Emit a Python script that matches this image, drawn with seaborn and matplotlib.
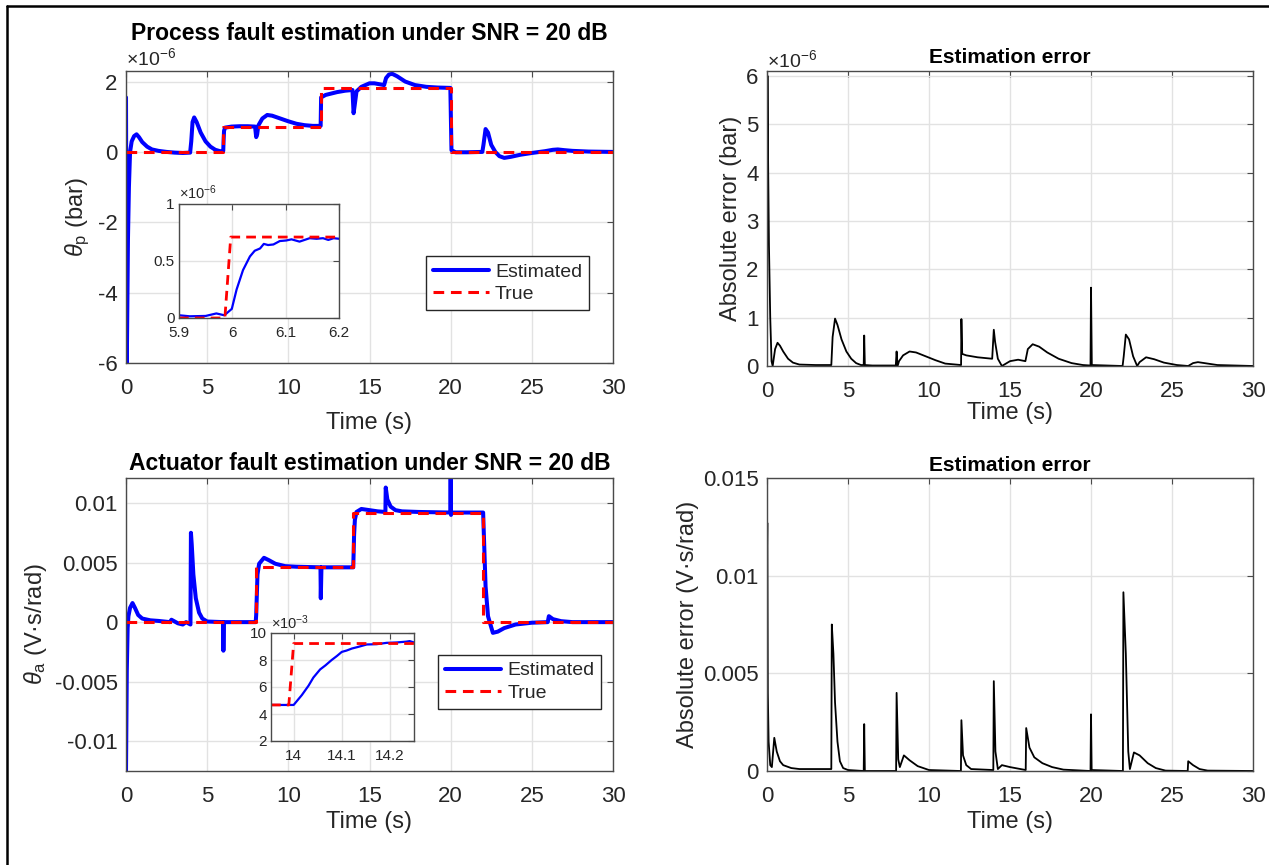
import matplotlib.pyplot as plt
import numpy as np
import seaborn as sns
from matplotlib.lines import Line2D
from matplotlib.ticker import FuncFormatter

# process fault, values in 1e-6 bar
t_proc_est = [0, 0.02, 0.05, 0.08, 0.12, 0.18, 0.25, 0.35, 0.5, 0.65,
              0.8, 1.0, 1.3, 1.6, 2.0, 2.5, 3.0, 3.5, 3.95, 4.02,
              4.1, 4.2, 4.35, 4.6, 4.9, 5.2, 5.5, 5.8, 5.99, 6.01,
              6.04, 6.1, 6.5, 7.0, 7.5, 7.95, 8.02, 8.08, 8.15, 8.4,
              8.7, 9.0, 9.5, 10.0, 10.5, 11.0, 11.5, 11.99, 12.02, 12.3,
              13.0, 13.5, 13.95, 14.02, 14.08, 14.2, 14.5, 15.0, 15.3, 15.9,
              16.02, 16.2, 16.4, 16.7, 17.2, 17.8, 18.5, 19.2, 19.98, 20.05,
              20.3, 21.0, 21.95, 22.02, 22.15, 22.3, 22.5, 22.75, 23.0, 23.3,
              23.7, 24.3, 25.0, 25.8, 26.3, 26.6, 27.0, 27.5, 28.5, 30]
proc_est = [1.55, -2.0, -6.0, -4.5, -2.5, -1.0, 0.0, 0.3, 0.45, 0.5,
            0.42, 0.28, 0.15, 0.07, 0.03, 0.0, -0.02, -0.03, -0.02, 0.3,
            0.85, 0.98, 0.85, 0.55, 0.3, 0.15, 0.06, 0.02, 0.03, 0.3,
            0.6, 0.69, 0.72, 0.73, 0.73, 0.72, 0.42, 0.5, 0.75, 0.95,
            1.05, 1.03, 0.95, 0.87, 0.8, 0.76, 0.74, 0.74, 1.55, 1.62,
            1.7, 1.74, 1.76, 1.1, 1.3, 1.72, 1.85, 1.95, 1.95, 1.9,
            2.1, 2.2, 2.22, 2.15, 2.0, 1.9, 1.85, 1.83, 1.82, 0.05,
            -0.01, -0.01, 0.0, 0.2, 0.65, 0.55, 0.2, 0.0, -0.12, -0.17,
            -0.14, -0.08, -0.03, 0.02, 0.06, 0.07, 0.05, 0.03, 0.01, 0.0]
t_proc_true = [0, 6, 6, 12, 12, 20, 20, 30]
proc_true = [0, 0, 0.72, 0.72, 1.82, 1.82, 0, 0]

t_proc_err = [0, 0.03, 0.06, 0.12, 0.2, 0.28, 0.35, 0.5, 0.65, 0.8,
              1.0, 1.3, 1.6, 2.0, 3.0, 3.97, 4.05, 4.2, 4.35, 4.6,
              4.9, 5.2, 5.5, 5.8, 5.97, 6.0, 6.04, 6.5, 7.95, 8.0,
              8.06, 8.15, 8.4, 8.8, 9.2, 9.8, 10.4, 11.0, 11.98, 12.0,
              12.05, 12.3, 13.0, 13.9, 14.0, 14.08, 14.25, 14.5, 15.0, 15.5,
              15.95, 16.1, 16.4, 16.8, 17.3, 18.0, 18.8, 19.5, 19.97, 20.0,
              20.05, 21.95, 22.02, 22.15, 22.35, 22.6, 22.85, 23.0, 23.4, 23.9,
              24.5, 25.3, 26.0, 26.3, 26.6, 27.0, 27.8, 30]
proc_err = [1.3, 6.0, 4.5, 2.5, 1.0, 0.1, 0.0, 0.35, 0.48, 0.42,
            0.3, 0.15, 0.07, 0.03, 0.02, 0.02, 0.6, 0.98, 0.85, 0.55,
            0.3, 0.15, 0.06, 0.02, 0.02, 0.63, 0.02, 0.01, 0.01, 0.3,
            0.0, 0.1, 0.22, 0.3, 0.28, 0.2, 0.12, 0.05, 0.02, 0.97,
            0.25, 0.22, 0.18, 0.15, 0.75, 0.5, 0.15, 0.0, 0.1, 0.13,
            0.1, 0.35, 0.45, 0.4, 0.28, 0.15, 0.06, 0.02, 0.01, 1.62,
            0.02, 0.0, 0.2, 0.65, 0.55, 0.2, 0.0, 0.08, 0.18, 0.14,
            0.07, 0.02, 0.0, 0.06, 0.08, 0.06, 0.02, 0.0]

# zoom around t = 6 s (1e-6 bar)
t_proc_zoom = [5.9, 5.92, 5.95, 5.97, 5.985, 5.999, 6.008, 6.02, 6.033, 6.042,
               6.052, 6.059, 6.067, 6.077, 6.089, 6.101, 6.111, 6.126, 6.145, 6.158,
               6.17, 6.18, 6.19, 6.2]
proc_zoom = [0.024, 0.015, 0.018, 0.04, 0.024, 0.08, 0.25, 0.42, 0.54, 0.59,
             0.61, 0.65, 0.64, 0.645, 0.675, 0.68, 0.69, 0.67, 0.70, 0.695,
             0.70, 0.685, 0.70, 0.695]
t_proc_zoom_true = [5.9, 5.986, 5.997, 6.2]
proc_zoom_true = [0, 0, 0.71, 0.71]

# actuator fault, values in 1e-3 V.s/rad
t_act_est = [0, 0.05, 0.1, 0.15, 0.25, 0.4, 0.55, 0.75, 1.0, 1.5,
             2.0, 2.7, 2.8, 3.2, 3.5, 3.7, 3.97, 4.0, 4.05, 4.15,
             4.3, 4.5, 4.7, 5.0, 5.98, 6.0, 6.03, 7.0, 7.99, 8.02,
             8.1, 8.2, 8.5, 8.8, 9.2, 9.8, 10.5, 11.98, 12.0, 12.04,
             13.0, 14.0, 14.05, 14.1, 14.2, 14.5, 15.0, 15.5, 15.98, 16.0,
             16.1, 16.3, 16.6, 17.0, 18.0, 19.98, 20.0, 20.02, 20.05, 21.0,
             22.0, 22.15, 22.3, 22.6, 22.9, 23.3, 24.0, 25.0, 25.98, 26.05,
             26.3, 26.8, 27.5, 30]
act_est = [-12.5, -4.0, -0.5, 0.5, 1.2, 1.6, 1.2, 0.6, 0.3, 0.15,
           0.1, 0.0, 0.2, -0.1, -0.2, 0.0, -0.2, 7.5, 6.5, 4.0,
           2.0, 0.8, 0.3, 0.05, 0.0, -2.4, 0.0, 0.0, 0.0, 0.6,
           4.0, 4.9, 5.4, 5.2, 4.9, 4.7, 4.65, 4.6, 2.0, 4.6,
           4.6, 4.6, 7.3, 8.6, 9.25, 9.5, 9.4, 9.3, 9.25, 11.3,
           10.3, 9.7, 9.4, 9.3, 9.25, 9.2, 12.5, 9.0, 9.2, 9.2,
           9.2, 3.0, 0.5, -0.9, -0.8, -0.5, -0.2, -0.05, 0.0, 0.5,
           0.25, 0.08, 0.0, 0.0]
t_act_true = [0, 8, 8, 14, 14, 22, 22, 30]
act_true = [0, 0, 4.6, 4.6, 9.2, 9.2, 0, 0]

t_act_err = [0, 0.02, 0.05, 0.1, 0.2, 0.3, 0.45, 0.6, 0.8, 1.0,
             1.5, 2.0, 3.0, 3.97, 4.0, 4.1, 4.2, 4.35, 4.5, 4.7,
             5.0, 5.97, 6.0, 6.04, 7.97, 8.0, 8.1, 8.2, 8.45, 8.8,
             9.3, 10.0, 11.97, 12.0, 12.1, 12.3, 12.6, 13.97, 14.0, 14.1,
             14.25, 14.5, 15.0, 15.97, 16.0, 16.2, 16.5, 17.0, 17.6, 18.3,
             19.97, 20.0, 20.04, 21.97, 22.0, 22.15, 22.3, 22.4, 22.65, 23.0,
             23.5, 24.0, 24.6, 25.97, 26.0, 26.3, 26.7, 27.2, 30]
act_err = [11.0, 12.7, 4.0, 1.5, 0.3, 0.2, 1.7, 1.0, 0.5, 0.3,
           0.15, 0.1, 0.1, 0.1, 7.5, 6.0, 3.5, 1.5, 0.5, 0.15,
           0.05, 0.0, 2.4, 0.0, 0.0, 4.0, 0.6, 0.2, 0.8, 0.55,
           0.25, 0.05, 0.0, 2.6, 0.8, 0.3, 0.1, 0.05, 4.6, 1.0,
           0.1, 0.3, 0.2, 0.05, 2.2, 1.2, 0.7, 0.4, 0.2, 0.07,
           0.0, 2.9, 0.05, 0.0, 9.15, 6.0, 1.0, 0.1, 0.95, 0.8,
           0.4, 0.15, 0.02, 0.0, 0.5, 0.3, 0.1, 0.02, 0.0]

# zoom around t = 14 s (1e-3 V.s/rad)
t_act_zoom = [13.953, 14.0, 14.017, 14.031, 14.041, 14.055, 14.066, 14.079, 14.09, 14.1,
              14.11, 14.121, 14.134, 14.152, 14.172, 14.193, 14.214, 14.234, 14.241, 14.25]
act_zoom = [4.67, 4.67, 5.4, 6.1, 6.7, 7.3, 7.6, 8.0, 8.3, 8.6,
            8.7, 8.85, 8.97, 9.15, 9.17, 9.27, 9.3, 9.36, 9.4, 9.3]
t_act_zoom_true = [13.953, 13.99, 14.0, 14.25]
act_zoom_true = [4.67, 4.67, 9.22, 9.22]

sns.set_theme(style="whitegrid")
plt.rcParams["font.family"] = ["Liberation Sans", "DejaVu Sans"]
plt.rcParams["mathtext.fontset"] = "custom"
plt.rcParams["mathtext.rm"] = "Liberation Sans"
plt.rcParams["mathtext.it"] = "Liberation Sans:italic"
plt.rcParams["mathtext.bf"] = "Liberation Sans:bold"

TXT = "#262626"
BLUE = "#0000ff"
RED = "#ff0000"
fmt = FuncFormatter(lambda v, p: f"{v:g}")


def style(ax, fs=16, xpad=11, ypad=6):
    ax.set_facecolor("white")
    ax.grid(True, color="#e2e2e2", lw=1)
    for s in ax.spines.values():
        s.set_color("#4a4a4a")
        s.set_linewidth(1)
    ax.tick_params(axis="both", direction="in", top=True, right=True,
                   length=4, width=0.8, color="#4a4a4a", labelcolor=TXT, labelsize=fs)
    ax.tick_params(axis="x", pad=xpad)
    ax.tick_params(axis="y", pad=ypad)
    ax.xaxis.set_major_formatter(fmt)
    ax.yaxis.set_major_formatter(fmt)


def draw(ax, t, v, color, lw, dashed=False, label=None, scale=1.0):
    sns.lineplot(x=np.array(t), y=np.array(v) * scale, ax=ax, color=color, lw=lw,
                 estimator=None, sort=False, label=label, legend=False)
    line = ax.lines[-1]
    if dashed:
        line.set_dashes([3.5, 2.2])
    line.set_solid_joinstyle("round")


fig = plt.figure(figsize=(12.69, 8.65), dpi=100)
W, H = 1269, 865


def px_axes(x0, x1, y0, y1):
    return fig.add_axes([x0 / W, 1 - y1 / H, (x1 - x0) / W, (y1 - y0) / H])


ax1 = px_axes(126, 613, 71, 363)
ax2 = px_axes(767, 1253, 71, 366)
ax3 = px_axes(126, 613, 478, 771)
ax4 = px_axes(767, 1253, 478, 771)

# process estimate
draw(ax1, t_proc_est, proc_est, BLUE, 2.9, label="Estimated")
draw(ax1, t_proc_true, proc_true, RED, 2.2, dashed=True, label="True")
style(ax1)
ax1.set_xlim(0, 30)
ax1.set_ylim(-6, 2.3)
ax1.set_xticks(range(0, 31, 5))
ax1.set_yticks([-6, -4, -2, 0, 2])
ax1.set_title("Process fault estimation under SNR = 20 dB", fontsize=16.5,
              fontweight="bold", color="black", pad=22)
ax1.set_xlabel("Time (s)", fontsize=17, color=TXT, labelpad=9)
ax1.set_ylabel(r"$\theta_\mathrm{p}$ (bar)", fontsize=17, color=TXT, labelpad=4)
ax1.text(0.0, 1.045, r"$\times10^{-6}$", transform=ax1.transAxes, fontsize=14,
         color=TXT, ha="left", va="center")
ax1.legend(loc="upper left", bbox_to_anchor=(0.616, 0.366), borderaxespad=0,
           fontsize=14, frameon=True, fancybox=False, edgecolor="#262626",
           framealpha=1, handlelength=2.9, borderpad=0.35, labelspacing=0.25,
           handletextpad=0.3).get_frame().set_linewidth(1)

# process error
draw(ax2, t_proc_err, proc_err, "black", 1.3)
style(ax2)
ax2.set_xlim(0, 30)
ax2.set_ylim(0, 6.1)
ax2.set_xticks(range(0, 31, 5))
ax2.set_yticks(range(0, 7))
ax2.set_title("Estimation error", fontsize=15, fontweight="bold", color="black", pad=6)
ax2.set_xlabel("Time (s)", fontsize=17, color=TXT, labelpad=0)
ax2.set_ylabel("Absolute error (bar)", fontsize=17, color=TXT, labelpad=3)
ax2.text(0.0, 1.037, r"$\times10^{-6}$", transform=ax2.transAxes, fontsize=14,
         color=TXT, ha="left", va="center")

# actuator estimate
draw(ax3, t_act_est, act_est, BLUE, 2.9, label="Estimated", scale=1e-3)
draw(ax3, t_act_true, act_true, RED, 2.2, dashed=True, label="True", scale=1e-3)
style(ax3)
ax3.set_xlim(0, 30)
ax3.set_ylim(-0.0125, 0.0121)
ax3.set_xticks(range(0, 31, 5))
ax3.set_yticks([-0.01, -0.005, 0, 0.005, 0.01])
ax3.set_title("Actuator fault estimation under SNR = 20 dB", fontsize=16.5,
              fontweight="bold", color="black", pad=6)
ax3.set_xlabel("Time (s)", fontsize=17, color=TXT, labelpad=3)
ax3.set_ylabel(r"$\theta_\mathrm{a}$ (V·s/rad)", fontsize=17, color=TXT, labelpad=4)
ax3.legend(loc="upper left", bbox_to_anchor=(0.641, 0.396), borderaxespad=0,
           fontsize=14, frameon=True, fancybox=False, edgecolor="#262626",
           framealpha=1, handlelength=2.9, borderpad=0.35, labelspacing=0.25,
           handletextpad=0.3).get_frame().set_linewidth(1)

# actuator error
draw(ax4, t_act_err, act_err, "black", 1.3, scale=1e-3)
style(ax4)
ax4.set_xlim(0, 30)
ax4.set_ylim(0, 0.015)
ax4.set_xticks(range(0, 31, 5))
ax4.set_yticks([0, 0.005, 0.01, 0.015])
ax4.set_title("Estimation error", fontsize=15, fontweight="bold", color="black", pad=5)
ax4.set_xlabel("Time (s)", fontsize=17, color=TXT, labelpad=3)
ax4.set_ylabel("Absolute error (V·s/rad)", fontsize=17, color=TXT, labelpad=3)

# insets
in1 = px_axes(179, 339, 204, 318)
draw(in1, t_proc_zoom, proc_zoom, BLUE, 1.6)
draw(in1, t_proc_zoom_true, proc_zoom_true, RED, 2.0, dashed=True)
style(in1, fs=11, xpad=6, ypad=3)
in1.set_xlim(5.9, 6.2)
in1.set_ylim(0, 1)
in1.set_xticks([5.9, 6.0, 6.1, 6.2])
in1.set_yticks([0, 0.5, 1])
in1.text(0.0, 1.1, r"$\times10^{-6}$", transform=in1.transAxes, fontsize=10.5,
         color=TXT, ha="left", va="center")

in2 = px_axes(271, 414, 633, 741)
draw(in2, t_act_zoom, act_zoom, BLUE, 1.6)
draw(in2, t_act_zoom_true, act_zoom_true, RED, 2.0, dashed=True)
style(in2, fs=11, xpad=6, ypad=3)
in2.set_xlim(13.953, 14.25)
in2.set_ylim(2, 10)
in2.set_xticks([14.0, 14.1, 14.2])
in2.set_yticks([2, 4, 6, 8, 10])
in2.text(0.0, 1.1, r"$\times10^{-3}$", transform=in2.transAxes, fontsize=10.5,
         color=TXT, ha="left", va="center")

# outer frame (left and top edges)
fig.add_artist(Line2D([7 / W, 7 / W], [0, 1 - 6 / H], color="black", lw=1.8))
fig.add_artist(Line2D([7 / W, 1], [1 - 6 / H, 1 - 6 / H], color="black", lw=1.8))

fig.savefig("out.png", dpi=100, facecolor="white")
